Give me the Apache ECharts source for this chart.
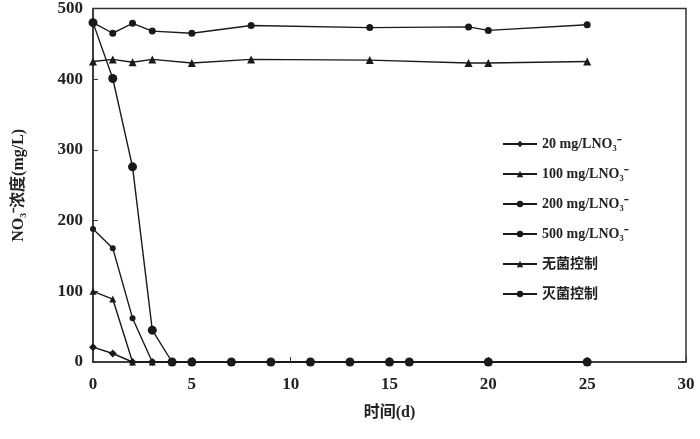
<!DOCTYPE html>
<html>
<head>
<meta charset="utf-8">
<script src="https://cdn.jsdelivr.net/npm/echarts@6/dist/echarts.min.js"></script>
<style>
  html, body { margin: 0; padding: 0; background: #fff; }
  #chart { width: 700px; height: 439px; }
</style>
</head>
<body>
<div id="chart"></div>
<script>
// 时间(d)
const zeroDays = [4, 5, 7, 9, 11, 13, 15, 16, 20, 25]
const ctrlDays = [0, 1, 2, 3, 5, 8, 14, 19, 20, 25]

// NO3- 浓度 (mg/L)
const s20Days = [0, 1, 2, 3]
const s20 = [21, 12, 0, 0]
const s100Days = [0, 1, 2, 3]
const s100 = [100, 89, 0, 0]
const s200Days = [0, 1, 2, 3]
const s200 = [188, 161, 62, 0]
const s500Days = [0, 1, 2, 3]
const s500 = [480, 401, 276, 45]
const zeroVals = [0, 0, 0, 0, 0, 0, 0, 0, 0, 0]
const wujun = [425, 428, 424, 428, 423, 428, 427, 423, 423, 425]   // 无菌控制
const miejun = [480, 465, 479, 468, 465, 476, 473, 474, 469, 477]  // 灭菌控制

const names = ['20 mg/LNO₃⁻', '100 mg/LNO₃⁻', '200 mg/LNO₃⁻', '500 mg/LNO₃⁻', '无菌控制', '灭菌控制']

const pair = (xs, ys) => xs.map((x, i) => [x, ys[i]])
const withZeros = (xs, ys) => pair(xs, ys).concat(pair(zeroDays, zeroVals).filter(p => p[0] > xs[xs.length - 1]))

const serif = '"Liberation Serif", "Noto Sans CJK SC", serif'
const chart = echarts.init(document.getElementById('chart'))

const mk = (name, data, symbol, size) => ({
  name: name,
  type: 'line',
  data: data,
  symbol: symbol,
  symbolSize: size,
  lineStyle: { color: '#1a1a1a', width: 1.4 },
  itemStyle: { color: '#1a1a1a' },
  animation: false
})

chart.setOption({
  backgroundColor: '#fff',
  grid: {
    left: 93,
    right: 14,
    top: 8,
    bottom: 77,
    show: true,
    borderColor: '#333',
    borderWidth: 1.5
  },
  legend: {
    orient: 'vertical',
    left: 497,
    top: 132,
    itemGap: 16,
    itemWidth: 34,
    itemHeight: 8,
    data: names,
    textStyle: { fontFamily: serif, fontSize: 14, color: '#222', fontWeight: 'bold' }
  },
  xAxis: {
    type: 'value',
    min: 0,
    max: 30,
    interval: 5,
    name: '时间(d)',
    nameLocation: 'middle',
    nameGap: 43,
    nameTextStyle: { fontFamily: serif, fontSize: 16, color: '#222', fontWeight: 'bold' },
    axisLine: { lineStyle: { color: '#333', width: 1.5 } },
    axisTick: { inside: true, length: 5, lineStyle: { color: '#333' } },
    axisLabel: { fontFamily: serif, fontSize: 17, color: '#222', fontWeight: 'bold', margin: 14 },
    splitLine: { show: false }
  },
  yAxis: {
    type: 'value',
    min: 0,
    max: 500,
    interval: 100,
    name: 'NO₃⁻浓度(mg/L)',
    nameLocation: 'middle',
    nameGap: 66,
    nameTextStyle: { fontFamily: serif, fontSize: 16, color: '#222', fontWeight: 'bold' },
    axisLine: { lineStyle: { color: '#333', width: 1.5 } },
    axisTick: { inside: true, length: 5, lineStyle: { color: '#333' } },
    axisLabel: { fontFamily: serif, fontSize: 17, color: '#222', fontWeight: 'bold', margin: 10 },
    splitLine: { show: false }
  },
  series: [
    mk(names[0], withZeros(s20Days, s20), 'diamond', 8),
    mk(names[1], withZeros(s100Days, s100), 'triangle', 7),
    mk(names[2], withZeros(s200Days, s200), 'circle', 6),
    mk(names[3], withZeros(s500Days, s500), 'circle', 9),
    mk(names[4], pair(ctrlDays, wujun), 'triangle', 8),
    mk(names[5], pair(ctrlDays, miejun), 'circle', 7)
  ]
})
</script>
</body>
</html>
